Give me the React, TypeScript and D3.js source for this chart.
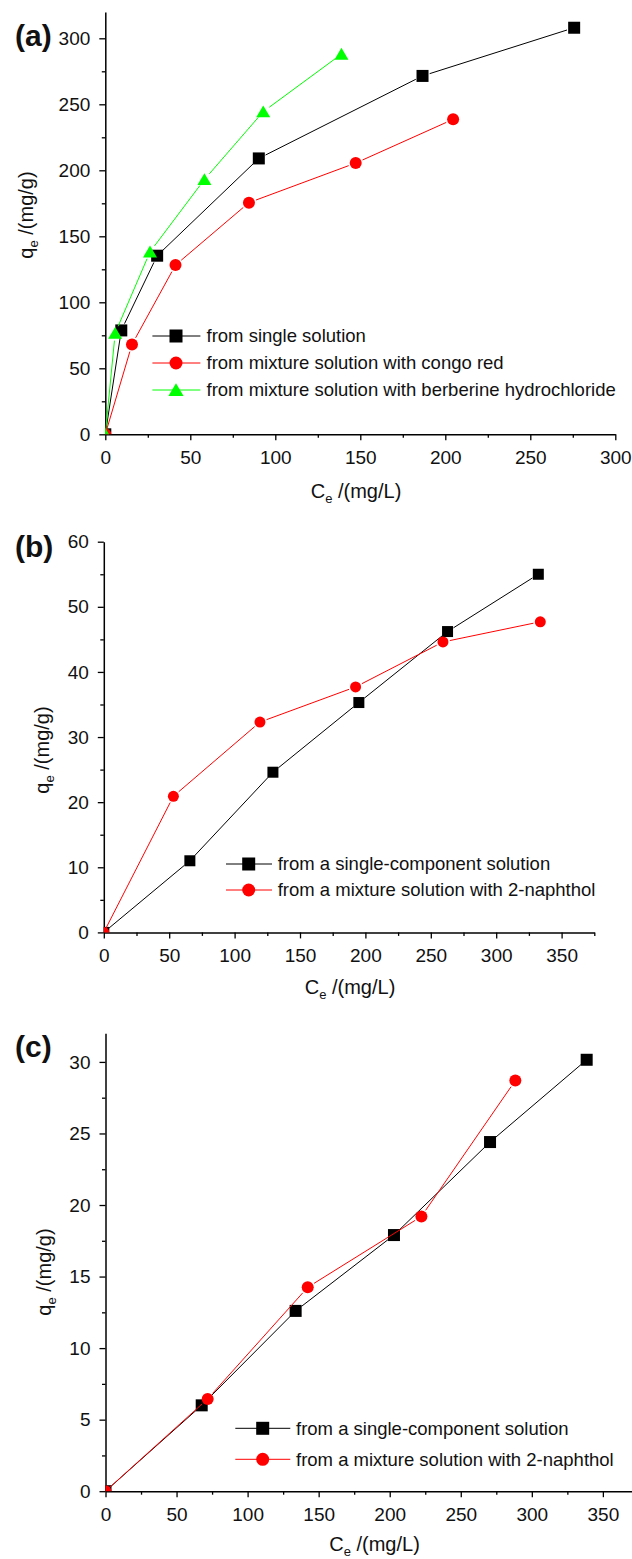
import * as d3 from 'd3';
import { useEffect, useRef } from 'react';

const FONT = '"Liberation Sans", Arial, Helvetica, sans-serif';

// ── Panel (a) data ─────────────────────────────────────────────
const ceSingleA = [0, 9.4, 30.5, 90.3, 186.6, 275.8];
const qeSingleA = [0, 78.7, 135.3, 209.0, 271.5, 308.0];
const ceCongoA = [0, 15.7, 41.3, 84.5, 147.3, 204.6];
const qeCongoA = [0, 68.1, 128.2, 175.5, 205.5, 238.6];
const ceBerbA = [0, 5.8, 26.3, 58.3, 92.9, 138.9];
const qeBerbA = [0, 76.6, 138.2, 193.0, 244.4, 288.0];
const legendA = ['from single solution', 'from mixture solution with congo red', 'from mixture solution with berberine hydrochloride'];

// ── Panel (b) data ─────────────────────────────────────────────
const ceSingleB = [0, 65.8, 129.3, 195.0, 262.8, 332.2];
const qeSingleB = [0, 11.0, 24.6, 35.3, 46.2, 55.0];
const ceNaphB = [0, 53.2, 119.4, 192.5, 259.3, 333.7];
const qeNaphB = [0, 20.9, 32.3, 37.7, 44.6, 47.7];

// ── Panel (c) data ─────────────────────────────────────────────
const ceSingleC = [0, 67.7, 133.8, 203.0, 270.6, 338.6];
const qeSingleC = [0, 6.0, 12.6, 17.9, 24.4, 30.15];
const ceNaphC = [0, 71.9, 142.3, 222.3, 288.4];
const qeNaphC = [0, 6.45, 14.25, 19.2, 28.7];
const legendBC = ['from a single-component solution', 'from a mixture solution with 2-naphthol'];

const zip = (xs, ys) => xs.map((x, i) => ({ x, y: ys[i] }));

const panels = [
  {
    tag: '(a)', tagY: 45.5,
    xr: [105.3, 615.3], xd: [0, 300], yr: [434.3, 11.9], yd: [0, 320],
    xMajor: 50, xMinor: 25, yMajor: 50, yMinor: 25,
    xTitle: [356, 497.5], yTitle: [32.5, 215],
    legend: { x1: 152.4, x2: 200.4, xm: 176, xt: 206.5, rows: [336, 363, 390] },
    ms: 12, lms: 13,
    series: [
      { pts: zip(ceSingleA, qeSingleA), shape: 'square', color: '#000000', name: legendA[0] },
      { pts: zip(ceCongoA, qeCongoA), shape: 'circle', color: '#ff0000', name: legendA[1] },
      { pts: zip(ceBerbA, qeBerbA), shape: 'triangle', color: '#00ff00', name: legendA[2] }
    ]
  },
  {
    tag: '(b)', tagY: 557,
    xr: [103.8, 594.3], xd: [0, 375], yr: [932.4, 541.7], yd: [0, 60],
    xMajor: 50, xMinor: 25, yMajor: 10, yMinor: 5,
    xTitle: [350, 994], yTitle: [49, 750],
    legend: { x1: 226, x2: 272, xm: 248.7, xt: 277.7, rows: [864, 890] },
    ms: 11, lms: 13,
    series: [
      { pts: zip(ceSingleB, qeSingleB), shape: 'square', color: '#000000', name: legendBC[0] },
      { pts: zip(ceNaphB, qeNaphB), shape: 'circle', color: '#ff0000', name: legendBC[1] }
    ]
  },
  {
    tag: '(c)', tagY: 1057,
    xr: [105.5, 638.4], xd: [0, 375], yr: [1491.2, 1033.3], yd: [0, 32],
    xMajor: 50, xMinor: 25, yMajor: 5, yMinor: 2.5,
    xTitle: [374.5, 1551], yTitle: [51, 1272],
    legend: { x1: 235.3, x2: 290.3, xm: 262.7, xt: 296, rows: [1428.3, 1459.3] },
    ms: 12, lms: 13,
    series: [
      { pts: zip(ceSingleC, qeSingleC), shape: 'square', color: '#000000', name: legendBC[0] },
      { pts: zip(ceNaphC, qeNaphC), shape: 'circle', color: '#ff0000', name: legendBC[1] }
    ]
  }
];

function marker(g, shape, cx, cy, size, color) {
  const h = size / 2;
  if (shape === 'square') {
    g.append('rect').attr('x', cx - h).attr('y', cy - h).attr('width', size).attr('height', size).attr('fill', color);
  } else if (shape === 'circle') {
    g.append('circle').attr('cx', cx).attr('cy', cy).attr('r', h).attr('fill', color);
  } else {
    g.append('path')
      .attr('d', `M${cx},${cy - h * 1.05}L${cx + h * 1.17},${cy + h * 0.92}L${cx - h * 1.17},${cy + h * 0.92}Z`)
      .attr('fill', color);
  }
}

// value ticks that are not multiples of the major step
const minorTicks = (d, minor, major) => d3.range(d[0], d[1] + 1e-9, minor).filter(v => Math.abs(v / major - Math.round(v / major)) > 1e-6);

const styleAxis = ax => {
  ax.attr('font-family', FONT).attr('font-size', 19);
  ax.selectAll('line').attr('stroke', '#000').attr('stroke-width', 1.3);
  ax.selectAll('.domain').attr('stroke', '#000').attr('stroke-width', 1.5);
  ax.selectAll('text').attr('fill', '#111');
};

const App = () => {
  const svgRef = useRef(null);

  useEffect(() => {
    const svg = d3.select(svgRef.current);
    svg.selectAll('*').remove();
    const defs = svg.append('defs');

    panels.forEach((p, pi) => {
      const x = d3.scaleLinear().domain(p.xd).range(p.xr);
      const y = d3.scaleLinear().domain(p.yd).range(p.yr);
      const g = svg.append('g');

      // ── Axes ────────────────────────────────────────────
      const xMaj = d3.range(p.xd[0], p.xd[1] + 1e-9, p.xMajor);
      const yMaj = d3.range(p.yd[0], p.yd[1] + 1e-9, p.yMajor);

      g.append('g')
        .attr('transform', `translate(0,${p.yr[0]})`)
        .call(d3.axisBottom(x).tickValues(minorTicks(p.xd, p.xMinor, p.xMajor)).tickSize(3.5).tickFormat(() => ''))
        .call(ax => ax.select('.domain').remove())
        .call(styleAxis);
      g.append('g')
        .attr('transform', `translate(0,${p.yr[0]})`)
        .call(d3.axisBottom(x).tickValues(xMaj).tickSize(6).tickSizeOuter(0).tickPadding(10).tickFormat(d3.format('d')))
        .call(styleAxis);

      g.append('g')
        .attr('transform', `translate(${p.xr[0]},0)`)
        .call(d3.axisLeft(y).tickValues(minorTicks(p.yd, p.yMinor, p.yMajor)).tickSize(3.5).tickFormat(() => ''))
        .call(ax => ax.select('.domain').remove())
        .call(styleAxis);
      g.append('g')
        .attr('transform', `translate(${p.xr[0]},0)`)
        .call(d3.axisLeft(y).tickValues(yMaj).tickSize(6).tickSizeOuter(0).tickPadding(9).tickFormat(d3.format('d')))
        .call(styleAxis);

      // ── Titles ──────────────────────────────────────────
      const xt = g.append('text').attr('x', p.xTitle[0]).attr('y', p.xTitle[1])
        .attr('text-anchor', 'middle').attr('font-family', FONT).attr('font-size', 20).attr('fill', '#111');
      xt.append('tspan').text('C');
      xt.append('tspan').attr('font-size', 13).attr('dy', 5).text('e');
      xt.append('tspan').attr('dy', -5).text(' /(mg/L)');

      const yt = g.append('text').attr('transform', `translate(${p.yTitle[0]},${p.yTitle[1]}) rotate(-90)`)
        .attr('text-anchor', 'middle').attr('font-family', FONT).attr('font-size', 20).attr('fill', '#111');
      yt.append('tspan').text('q');
      yt.append('tspan').attr('font-size', 13).attr('dy', 5).text('e');
      yt.append('tspan').attr('dy', -5).text(' /(mg/g)');

      g.append('text').attr('x', 15).attr('y', p.tagY)
        .attr('font-family', FONT).attr('font-size', 30).attr('font-weight', 'bold').attr('fill', '#111')
        .text(p.tag);

      // ── Data (clipped to the plot frame) ────────────────
      const clipId = `plot-clip-${pi}`;
      defs.append('clipPath').attr('id', clipId).append('rect')
        .attr('x', p.xr[0]).attr('y', 0).attr('width', 632 - p.xr[0]).attr('height', p.yr[0]);
      const plot = g.append('g').attr('clip-path', `url(#${clipId})`);

      p.series.forEach(s => {
        const px = s.pts.map(d => [x(d.x), y(d.y)]);
        const gap = p.ms / 2 + 1.5;
        for (let i = 1; i < px.length; i++) {
          const [ax, ay] = px[i - 1];
          const [bx, by] = px[i];
          const len = Math.hypot(bx - ax, by - ay);
          if (len <= gap * 2) continue;
          const ux = (bx - ax) / len;
          const uy = (by - ay) / len;
          const g0 = i === 1 ? 0 : gap;
          plot.append('line')
            .attr('x1', ax + ux * g0).attr('y1', ay + uy * g0)
            .attr('x2', bx - ux * gap).attr('y2', by - uy * gap)
            .attr('stroke', s.color).attr('stroke-width', 1);
        }
        px.forEach(([cx, cy]) => marker(plot, s.shape, cx, cy, p.ms, s.color));
      });

      // ── Legend ──────────────────────────────────────────
      const L = p.legend;
      p.series.forEach((s, i) => {
        const ry = L.rows[i];
        g.append('line').attr('x1', L.x1).attr('x2', L.x2).attr('y1', ry).attr('y2', ry)
          .attr('stroke', s.color).attr('stroke-width', 1);
        marker(g, s.shape, L.xm, ry, p.lms, s.color);
        g.append('text').attr('x', L.xt).attr('y', ry).attr('dy', '0.35em')
          .attr('font-family', FONT).attr('font-size', 18.5).attr('fill', '#111').text(s.name);
      });
    });
  }, []);

  return (
    <svg
      ref={svgRef}
      width={632}
      height={1559}
      style={{ position: 'absolute', left: 0, top: 0, background: '#fff' }}
    />
  );
};

export default App;
